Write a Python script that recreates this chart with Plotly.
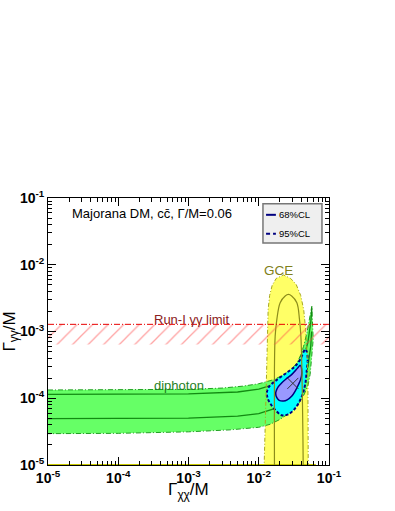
import plotly.graph_objects as go

# ---------------- data ----------------
tick_vals = [1e-5, 1e-4, 1e-3, 1e-2, 1e-1]
tick_text = ["<b>10<sup>-5</sup></b>", "<b>10<sup>-4</sup></b>", "<b>10<sup>-3</sup></b>",
             "<b>10<sup>-2</sup></b>", "<b>10<sup>-1</sup></b>"]
minor_vals = [m * 10.0 ** e for e in range(-5, -1) for m in range(2, 10)]

# Run-I gamma-gamma limit (hatched band, full width)
run1_x = [1e-5, 1e-1]
run1_lo = 6.4e-4
run1_hi = 1.28e-3

# GCE region (outer 95% filled, inner 68% line)
gce95_x = [0.01194, 0.01194, 0.01254, 0.01296, 0.01317, 0.01339, 0.01361, 0.01429, 0.01552, 0.01770,
           0.02248, 0.02847, 0.03410, 0.03952, 0.04360, 0.04657, 0.04844, 0.05005, 0.05105, 0.05105]
gce95_y = [1e-6, 1.02e-5, 6.82e-5, 2.71e-4, 6.41e-4, 1.28e-3, 2.14e-3, 3.47e-3, 4.90e-3, 6.23e-3,
           7.04e-3, 6.23e-3, 5.07e-3, 3.47e-3, 2.14e-3, 1.075e-3, 5.40e-4, 1.92e-4, 4.83e-5, 1e-6]
gce68_x = [0.01673, 0.01673, 0.01673, 0.01713, 0.01810, 0.02017, 0.02377, 0.02649, 0.02942, 0.03488,
           0.03800, 0.03979, 0.04111, 0.04221, 0.04290, 0.04290]
gce68_y = [1e-6, 1.02e-5, 2.71e-4, 8.53e-4, 1.52e-3, 2.70e-3, 3.41e-3, 3.59e-3, 3.41e-3, 2.70e-3,
           1.52e-3, 8.53e-4, 2.71e-4, 4.83e-5, 1.02e-5, 1e-6]
gce_floor_x = [1e-5, 0.065]
gce_floor_y = [1e-5, 1e-5]

# diphoton band: outer edges and the two inner lines
dip_up_x = [1e-5, 1e-4, 1e-3, 3e-3, 6e-3, 1e-2, 1.5e-2, 2e-2, 2.5e-2, 3e-2, 3.5e-2, 3.9e-2,
            4.35e-2, 4.85e-2, 5.25e-2, 5.5e-2, 5.7e-2]
dip_up_y = [1.33e-4, 1.33e-4, 1.36e-4, 1.42e-4, 1.52e-4, 1.65e-4, 1.85e-4, 2.1e-4, 2.4e-4, 2.8e-4,
            3.4e-4, 4.3e-4, 6.0e-4, 9.6e-4, 1.52e-3, 1.9e-3, 2.4e-3]
dip_lo_x = [5.96e-2, 5.57e-2, 5.39e-2, 5.06e-2, 4.44e-2, 3.64e-2, 2.8e-2, 2.02e-2, 1.45e-2, 1e-2,
            3.9e-3, 1e-3, 1e-4, 1e-5]
dip_lo_y = [7.6e-4, 3.8e-4, 2.28e-4, 1.61e-4, 1.14e-4, 8.1e-5, 6.15e-5, 4.83e-5, 4.07e-5, 3.67e-5,
            3.36e-5, 3.14e-5, 2.98e-5, 2.95e-5]
dip_in1_x = [1e-5, 1e-3, 5e-3, 1e-2, 2e-2, 3e-2, 4e-2, 4.5e-2, 5e-2, 5.3e-2, 5.5e-2, 5.65e-2, 5.7e-2]
dip_in1_y = [1.14e-4, 1.16e-4, 1.24e-4, 1.37e-4, 1.71e-4, 2.28e-4, 3.42e-4, 4.6e-4, 6.8e-4, 9.8e-4,
             1.37e-3, 1.95e-3, 2.3e-3]
dip_in2_x = [1e-5, 1e-3, 5e-3, 1e-2, 2e-2, 3e-2, 4e-2, 4.5e-2, 5e-2, 5.3e-2, 5.5e-2, 5.65e-2]
dip_in2_y = [4.95e-5, 5.03e-5, 5.4e-5, 5.9e-5, 7.4e-5, 9.9e-5, 1.49e-4, 1.98e-4, 2.97e-4, 4.2e-4,
             6e-4, 1.0e-3]

# combined fit contours
cl95_x = [0.0458, 0.0389, 0.0330, 0.0251, 0.01714, 0.01384, 0.01304, 0.01339, 0.01453, 0.01714,
          0.02133, 0.02624, 0.0330, 0.0411, 0.0458, 0.0484, 0.0497, 0.0481, 0.0458]
cl95_y = [5.40e-4, 3.82e-4, 3.03e-4, 2.42e-4, 1.81e-4, 1.46e-4, 1.21e-4, 9.98e-5, 8.4e-5, 6.7e-5,
          5.55e-5, 5.74e-5, 7.06e-5, 1.07e-4, 1.61e-4, 2.71e-4, 3.82e-4, 5.04e-4, 5.40e-4]
cl68_x = [0.0389, 0.0411, 0.0395, 0.0368, 0.0330, 0.0296, 0.0254, 0.0225, 0.01953, 0.0181,
          0.01742, 0.01771, 0.01889, 0.02133, 0.02455, 0.0296, 0.0361, 0.0389]
cl68_y = [3.11e-4, 2.42e-4, 1.92e-4, 1.61e-4, 1.28e-4, 1.08e-4, 9.46e-5, 9.08e-5, 9.3e-5, 1.02e-4,
          1.18e-4, 1.28e-4, 1.48e-4, 1.71e-4, 1.95e-4, 2.28e-4, 2.87e-4, 3.11e-4]
best_x = [0.0306]
best_y = [1.67e-4]

FONT = "Liberation Sans, Arial, sans-serif"
NAVY = "#000080"

fig = go.Figure()

# GCE filled region
fig.add_trace(go.Scatter(x=gce95_x, y=gce95_y, mode="lines", fill="toself",
                         fillcolor="#ffff66", line=dict(width=0)))
fig.add_trace(go.Scatter(x=gce_floor_x, y=gce_floor_y, mode="lines",
                         line=dict(color="#c8c800", width=2)))

# diphoton band
fig.add_trace(go.Scatter(x=dip_up_x + dip_lo_x, y=dip_up_y + dip_lo_y, mode="lines",
                         fill="toself", fillcolor="#66ff66",
                         line=dict(color="#22a022", width=1, dash="5px,2px,1px,2px")))
for xs, ys in [(dip_in1_x, dip_in1_y), (dip_in2_x, dip_in2_y)]:
    fig.add_trace(go.Scatter(x=xs, y=ys, mode="lines", line=dict(color="#128a12", width=1.3)))

# combined fit
fig.add_trace(go.Scatter(x=cl95_x, y=cl95_y, mode="lines", fill="toself", fillcolor="#00ffff",
                         line=dict(color=NAVY, width=2, dash="3px,2px"), line_shape="spline"))
fig.add_trace(go.Scatter(x=cl68_x, y=cl68_y, mode="lines", fill="toself", fillcolor="#9999ff",
                         line=dict(color=NAVY, width=1.5), line_shape="spline"))

# GCE outlines
fig.add_trace(go.Scatter(x=gce95_x, y=gce95_y, mode="lines",
                         line=dict(color="#a8a820", width=1, dash="4px,2px,1px,2px")))
fig.add_trace(go.Scatter(x=gce68_x, y=gce68_y, mode="lines",
                         line=dict(color="#8c8c1a", width=1.2), line_shape="spline"))

# Run-I limit
fig.add_trace(go.Scatter(x=[run1_x[0], run1_x[1], run1_x[1], run1_x[0], run1_x[0]],
                         y=[run1_lo, run1_lo, run1_hi, run1_hi, run1_lo], mode="lines",
                         fill="toself", fillcolor="rgba(0,0,0,0)", line=dict(width=0),
                         fillpattern=dict(shape="/", fgcolor="#ff4a4a", bgcolor="rgba(0,0,0,0)",
                                          size=11, solidity=0.12)))
fig.add_trace(go.Scatter(x=run1_x, y=[run1_hi, run1_hi], mode="lines",
                         line=dict(color="#e80000", width=1, dash="6px,2px,1px,2px")))

# best fit point
fig.add_trace(go.Scatter(x=best_x, y=best_y, mode="markers",
                         marker=dict(symbol="x-thin", size=11, line=dict(color="#333333", width=1))))

axis_common = dict(
    type="log", range=[-5, -1], showgrid=False, zeroline=False,
    showline=True, linecolor="black", linewidth=1, mirror="allticks",
    ticks="inside", ticklen=8, tickcolor="black", tickmode="array",
    tickvals=tick_vals, ticktext=tick_text,
    tickfont=dict(family=FONT, size=14, color="black"),
    minor=dict(tickvals=minor_vals, ticks="inside", ticklen=4, tickcolor="black", showgrid=False),
)

annotations = [
    dict(text="Majorana DM, cc\u0304, \u0393/M=0.06", x=0.078, y=0.943, xanchor="left", yanchor="middle",
         font=dict(size=13, color="black")),
    dict(text="GCE", x=0.82, y=0.728, xanchor="center", yanchor="middle",
         font=dict(size=13.5, color="#80801a")),
    dict(text="Run-I \u03b3\u03b3 limit", x=0.369, y=0.545, xanchor="left", yanchor="middle",
         font=dict(size=13, color="#8b2020")),
    dict(text="diphoton", x=0.369, y=0.296, xanchor="left", yanchor="middle",
         font=dict(size=13, color="#1f7f1f")),
    dict(text="68%CL", x=0.815, y=0.937, xanchor="left", yanchor="middle",
         font=dict(size=9.5, color="black")),
    dict(text="95%CL", x=0.815, y=0.866, xanchor="left", yanchor="middle",
         font=dict(size=9.5, color="black")),
    dict(text="\u0393<sub>\u03c7\u03c7</sub>/M", x=0.5, y=-0.097, xanchor="center", yanchor="middle",
         font=dict(size=17, color="black")),
    dict(text="\u0393<sub>\u03b3\u03b3</sub>/M", x=-0.135, y=0.5, xanchor="center", yanchor="middle",
         textangle=-90, font=dict(size=17, color="black")),
]
for a in annotations:
    a.update(xref="paper", yref="paper", showarrow=False)

shapes = [
    dict(type="rect", xref="paper", yref="paper", x0=0.765, x1=0.975, y0=0.831, y1=0.978,
         fillcolor="#efefef", line=dict(color="#777777", width=1.5)),
    dict(type="line", xref="paper", yref="paper", x0=0.776, x1=0.811, y0=0.937, y1=0.937,
         line=dict(color=NAVY, width=2)),
    dict(type="line", xref="paper", yref="paper", x0=0.776, x1=0.811, y0=0.866, y1=0.866,
         line=dict(color=NAVY, width=2, dash="4px,3px")),
]

fig.update_layout(
    width=395, height=511,
    margin=dict(l=48, r=66, t=198, b=46),
    paper_bgcolor="white", plot_bgcolor="white",
    showlegend=False,
    font=dict(family=FONT),
    xaxis=axis_common, yaxis=axis_common,
    annotations=annotations, shapes=shapes,
)

# drop the default 8px page margin so the figure fills the window exactly
fig.write_html("out.html", config={"displayModeBar": False},
               post_script="document.body.style.margin='0';")
